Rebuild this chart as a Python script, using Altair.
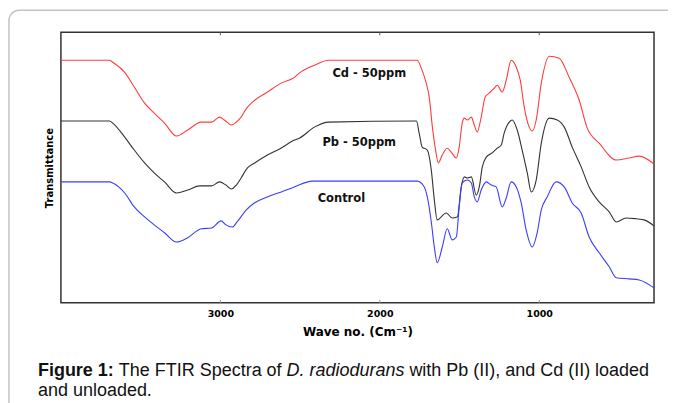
import altair as alt
import pandas as pd

# ---- data (wavenumber cm-1, transmittance a.u.) ----
wn_cd = [4000, 3695, 3675, 3600, 3540, 3475, 3415, 3350, 3275, 3205,
         3120, 3055, 3005, 2975, 2930, 2900, 2870, 2835, 2785, 2705,
         2620, 2535, 2505, 2410, 2320, 1765, 1740, 1710, 1690, 1670,
         1650, 1633, 1608, 1577, 1552, 1520, 1502, 1483, 1470, 1451,
         1426, 1407, 1389, 1364, 1339, 1314, 1282, 1263, 1232, 1207,
         1176, 1144, 1119, 1094, 1063, 1044, 1019, 987, 937, 875,
         812, 749, 699, 624, 517, 436, 373, 280]
t_cd = [93.2, 93.2, 92.4, 88.6, 83.0, 76.9, 73.1, 69.3, 64.4, 66.7,
        69.7, 69.7, 71.6, 70.5, 68.6, 69.7, 71.6, 75.0, 78.0, 81.1,
        84.5, 86.7, 88.3, 91.3, 93.2, 93.2, 90.2, 84.8, 79.2, 67.8,
        59.1, 54.2, 57.2, 59.8, 58.3, 56.1, 60.2, 69.3, 71.2, 70.5,
        71.6, 68.6, 65.9, 71.6, 79.2, 80.7, 82.6, 83.7, 81.1, 85.6,
        93.2, 90.6, 85.6, 75.4, 67.8, 66.3, 70.5, 84.5, 94.7, 93.9,
        86.7, 78.0, 67.4, 61.7, 55.3, 56.1, 56.8, 53.8]

wn_pb = [4000, 3695, 3675, 3600, 3540, 3475, 3415, 3350, 3275, 3205,
         3130, 3055, 3005, 2965, 2930, 2900, 2870, 2830, 2785, 2705,
         2620, 2535, 2505, 2410, 2320, 1770, 1753, 1734, 1702, 1677,
         1658, 1640, 1583, 1546, 1514, 1489, 1470, 1451, 1426, 1395,
         1376, 1357, 1332, 1295, 1263, 1238, 1220, 1188, 1169, 1138,
         1107, 1075, 1050, 1019, 987, 937, 887, 843, 793, 737,
         687, 624, 561, 517, 455, 392, 342, 280]
t_pb = [70.1, 70.1, 69.3, 64.0, 59.1, 54.2, 50.4, 47.0, 42.8, 43.9,
        45.5, 45.5, 47.0, 45.8, 44.3, 45.8, 48.5, 52.3, 54.2, 57.2,
        59.8, 62.9, 63.6, 67.8, 69.7, 70.1, 65.5, 60.2, 59.1, 51.5,
        40.2, 32.6, 35.2, 33.3, 33.7, 45.1, 48.9, 48.5, 48.9, 42.0,
        45.1, 52.7, 56.4, 58.0, 59.8, 61.0, 65.5, 69.7, 70.5, 66.7,
        59.1, 50.4, 43.2, 47.7, 61.7, 71.2, 70.5, 67.8, 60.2, 52.7,
        45.1, 39.4, 35.6, 31.8, 33.3, 33.0, 32.6, 30.3]

wn_ctl = [4000, 3695, 3675, 3600, 3540, 3475, 3415, 3350, 3275, 3205,
          3120, 3055, 2995, 2965, 2925, 2895, 2837, 2787, 2705, 2618,
          2536, 2423, 2317, 1765, 1721, 1702, 1677, 1658, 1640, 1608,
          1577, 1546, 1520, 1502, 1483, 1451, 1426, 1407, 1389, 1364,
          1332, 1301, 1270, 1232, 1207, 1176, 1144, 1113, 1082, 1044,
          1013, 987, 950, 894, 843, 793, 737, 687, 624, 561,
          517, 436, 373, 280]
t_ctl = [47.0, 47.0, 46.6, 42.8, 37.5, 33.7, 30.7, 27.7, 24.2, 25.8,
         29.2, 29.5, 32.2, 30.7, 29.9, 31.8, 36.4, 39.0, 41.3, 43.2,
         45.1, 47.3, 47.3, 47.3, 45.1, 41.3, 31.8, 22.3, 16.3, 22.3,
         29.2, 25.0, 26.1, 37.5, 46.6, 47.7, 46.6, 41.3, 39.4, 43.9,
         47.0, 45.8, 45.1, 37.5, 40.9, 47.0, 45.1, 39.0, 28.8, 22.3,
         27.7, 36.4, 41.3, 47.0, 45.1, 39.0, 35.2, 26.1, 20.1, 14.8,
         10.6, 10.2, 9.8, 6.8]

series_names = ["Cd - 50ppm", "Pb - 50ppm", "Control"]
series_colors = ["#ff3c3c", "#333333", "#3c3cff"]
label_wn = [2066, 2129, 2241]
label_t = [87.9, 61.7, 40.5]
tick_values = [3000, 2000, 1000]

caption_line1 = ["Figure 1:", "The FTIR Spectra of", "D. radiodurans",
                 "with Pb (II), and Cd (II) loaded"]
caption_line2 = "and unloaded."

# ---- build table ----
rows = []
for name, wns, ts in zip(series_names, [wn_cd, wn_pb, wn_ctl], [t_cd, t_pb, t_ctl]):
    for w, t in zip(wns, ts):
        rows.append({"wn": w, "t": t, "series": name})
df = pd.DataFrame(rows)
labels_df = pd.DataFrame({"wn": label_wn, "t": label_t, "series": series_names})
ticks_df = pd.DataFrame({"wn": tick_values})

W, H = 594, 271
xscale = alt.Scale(domain=[280, 4000], reverse=True, nice=False, zero=False)
yscale = alt.Scale(domain=[1.1, 103.8], nice=False, zero=False)

lines = alt.Chart(df).mark_line(strokeWidth=1.1, interpolate="monotone").encode(
    x=alt.X("wn:Q", scale=xscale,
            axis=alt.Axis(values=tick_values, format="d", title="Wave no. (Cm⁻¹)",
                          grid=False, domain=False, ticks=False, labelPadding=6,
                          labelFont="DejaVu Sans", labelFontWeight="bold",
                          labelFontSize=9.5, labelColor="#000",
                          titleFont="DejaVu Sans", titleFontWeight="bold",
                          titleFontSize=12, titleColor="#000", titlePadding=8)),
    y=alt.Y("t:Q", scale=yscale,
            axis=alt.Axis(labels=False, ticks=False, domain=False, grid=False,
                          title="Transmittance", titleFont="DejaVu Sans",
                          titleFontWeight="bold", titleFontSize=10,
                          titleColor="#000", titlePadding=6)),
    color=alt.Color("series:N", scale=alt.Scale(domain=series_names, range=series_colors),
                    legend=None),
    detail="series:N",
    order=alt.Order("wn:Q", sort="descending"),
)

texts = alt.Chart(labels_df).mark_text(font="DejaVu Sans", fontWeight="bold",
                                       fontSize=11.5, color="#111", align="center",
                                       baseline="middle").encode(
    x=alt.X("wn:Q", scale=xscale),
    y=alt.Y("t:Q", scale=yscale),
    text="series:N",
)

top_ticks = alt.Chart(ticks_df).mark_rule(color="#555", strokeWidth=1).encode(
    x=alt.X("wn:Q", scale=xscale), y=alt.value(0), y2=alt.value(3))
bottom_ticks = alt.Chart(ticks_df).mark_rule(color="#999", strokeWidth=1).encode(
    x=alt.X("wn:Q", scale=xscale), y=alt.value(H - 3), y2=alt.value(H))

card = alt.Chart(ticks_df.head(1)).mark_rect(
    fill=None, stroke="#c4c4c4", strokeWidth=1.5, cornerRadius=10).encode(
    x=alt.value(-52), x2=alt.value(760), y=alt.value(-22), y2=alt.value(500))

cap_x = [-23, 58, 226, 349]
cap_font = [("bold", "normal"), ("normal", "normal"), ("normal", "italic"), ("normal", "normal")]
cap_layers = []
for txt, x0, (fw, fs) in zip(caption_line1, cap_x, cap_font):
    cap_layers.append(
        alt.Chart(ticks_df.head(1)).mark_text(
            text=txt, font="Liberation Sans", fontSize=18, fontWeight=fw, fontStyle=fs,
            align="left", baseline="middle", color="#111").encode(
            x=alt.value(x0), y=alt.value(339)))
cap_layers.append(
    alt.Chart(ticks_df.head(1)).mark_text(
        text=caption_line2, font="Liberation Sans", fontSize=18,
        align="left", baseline="middle", color="#111").encode(
        x=alt.value(-23), y=alt.value(359)))

chart = alt.layer(card, lines, texts, top_ticks, bottom_ticks, *cap_layers).properties(
    width=W, height=H,
    autosize=alt.AutoSizeParams(type="none"),
    padding={"left": 53, "top": 24, "right": 14, "bottom": 100},
    background="white",
).configure_view(stroke="#333333", strokeWidth=1.5)

chart.save("out.html", embed_options={"renderer": "svg", "actions": False})
